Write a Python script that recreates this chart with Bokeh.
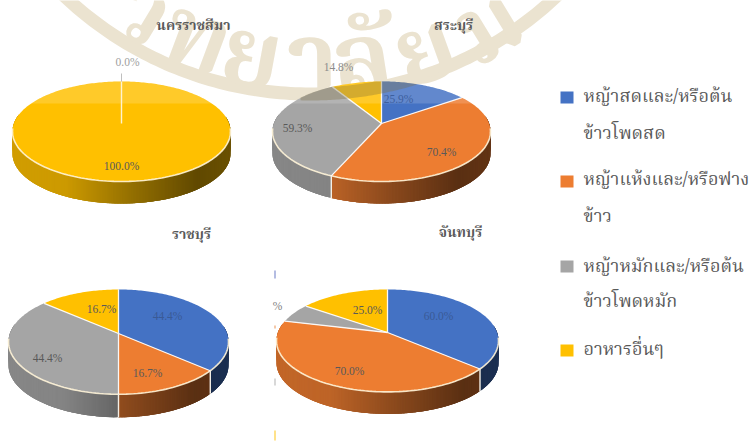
import math

from bokeh.core.properties import value
from bokeh.embed import file_html
from bokeh.models import Range1d
from bokeh.plotting import figure
from bokeh.resources import INLINE

# Feed categories and their colours
categories = [
    ["หญ้าสดและ/หรือต้น", "ข้าวโพดสด"],
    ["หญ้าแห้งและ/หรือฟาง", "ข้าว"],
    ["หญ้าหมักและ/หรือต้น", "ข้าวโพดหมัก"],
    ["อาหารอื่นๆ"],
]
colors = ["#4472C4", "#ED7D31", "#A5A5A5", "#FFC000"]

# Percent of farms per province (multiple answers, so totals pass 100)
nakhon_ratchasima = [0.0, 0.0, 0.0, 100.0]
saraburi = [25.9, 70.4, 59.3, 14.8]
ratchaburi = [44.4, 16.7, 44.4, 16.7]
chanthaburi = [60.0, 70.0, 10.0, 25.0]

FONT = "Liberation Serif"
THAI_FONT = "Noto Serif Thai"
INK = "#595959"

p = figure(width=752, height=441, output_backend="svg", toolbar_location=None,
           x_range=Range1d(0, 752), y_range=Range1d(441, 0), min_border=0,
           outline_line_color=None, background_fill_color="white")
p.axis.visible = False
p.grid.visible = False

# University seal behind the charts: a wide ring with letters following it
SEAL_X, SEAL_Y, SEAL_OUT, SEAL_IN = 310, -265, 365, 352
SEAL = "#ebe3d0"


def ring_point(radius, t):
    return SEAL_X + radius * math.sin(t), SEAL_Y + radius * math.cos(t)


steps = [-0.85 + i * 1.7 / 120 for i in range(121)]
outer = [ring_point(SEAL_OUT, t) for t in steps]
inner = [ring_point(SEAL_IN, t) for t in reversed(steps)]
p.patch([q[0] for q in outer + inner], [q[1] for q in outer + inner],
        fill_color=SEAL, line_color=None)

seal_letters = ["ว", "ท", "ย", "า", "ลั", "ย", "ม"]
seal_x = [140, 195, 250, 312, 362, 426, 490]
seal_y = [15, 43, 60, 65, 65, 55, 30]
for letter, lx, ly in zip(seal_letters, seal_x, seal_y):
    p.text([lx], [ly], text=[letter], angle=[-math.atan((SEAL_X - lx) / (ly - SEAL_Y))],
           text_font=value(THAI_FONT), text_font_size="96px", text_font_style="bold",
           text_color=SEAL, text_align="center", text_baseline="alphabetic")

WALL_PROFILE = [(0, .82), (.25, .80), (.55, .58), (.85, .38), (1, .42)]


def wall_shade(frac):
    for (a, sa), (b, sb) in zip(WALL_PROFILE, WALL_PROFILE[1:]):
        if frac <= b:
            return sa + (sb - sa) * (frac - a) / (b - a)
    return WALL_PROFILE[-1][1]


def tint(color, k):
    rgb = [int(color[i:i + 2], 16) for i in (1, 3, 5)]
    return "#" + "".join(f"{round(c * k):02x}" for c in rgb)


def draw_pie(values, ax, ay, left, right, top, bottom, depth):
    """Tilted 3D pie; slice shares are each value over the row total."""
    c = -0.16
    half = (right - left) / 2
    k = half * math.sqrt(1 - c * c)
    dy = (ay - top) * (1 - c)

    def rim(a):
        u, v = math.sin(a), -math.cos(a)
        w = 1 + c * v
        return ax + k * u / w, ay + dy * v / w

    total = sum(values)
    start = 0.0
    spans = []
    for val, col in zip(values, colors):
        end = start + val / total * 2 * math.pi
        if val > 0:
            spans.append((start, end, col))
        start = end

    # Outer wall, cut into short overlapping pieces to carry the horizontal shading
    xs, ys, fills = [], [], []
    for s, e, col in spans:
        n = max(2, int((e - s) / 0.012))
        for i in range(n):
            a0 = s + (e - s) * i / n
            a1 = min(e, a0 + 3.5 * (e - s) / n)
            p0, p1 = rim(a0), rim(a1)
            if math.cos(a0) > 0.16:
                continue
            xs.append([p0[0], p1[0], p1[0], p0[0]])
            ys.append([p0[1], p1[1], p1[1] + depth, p0[1] + depth])
            frac = (p0[0] - left) / (right - left)
            fills.append(tint(col, wall_shade(min(1, max(0, frac)))))
    p.patches(xs, ys, fill_color=fills, line_color=None)

    # Top face
    for s, e, col in spans:
        n = max(4, int((e - s) / 0.02))
        pts = [rim(s + (e - s) * i / n) for i in range(n + 1)]
        if e - s < 2 * math.pi - 1e-6:
            pts = [(ax, ay)] + pts
        p.patch([q[0] for q in pts], [q[1] for q in pts], fill_color=col, line_color=None)

    # Pale highlight along the near rim
    near = [rim(math.pi / 2 + 0.1 + i * (math.pi - 0.2) / 100) for i in range(101)]
    p.line([q[0] for q in near], [q[1] for q in near], line_color="#fff4d8",
           line_width=1.6, line_alpha=0.9)

    # Separators between slices, running on down the wall where it is visible
    if len(spans) > 1:
        for s, e, col in spans:
            q = rim(s)
            p.line([ax, q[0]], [ay, q[1]], line_color="white", line_width=1.3, line_alpha=0.9)
            if math.cos(s) < 0.16:
                p.line([q[0], q[0]], [q[1], q[1] + depth], line_color="#f4efe6", line_width=1.4)

    return rim


def draw_seal_over(rim, cut):
    """The seal prints over the upper edge of a pie: a lighter cap above the cut."""
    outline = [rim(i * 2 * math.pi / 360) for i in range(361)]
    cap = [(q[0], min(q[1], cut)) for q in outline]
    p.patch([q[0] for q in cap], [q[1] for q in cap], fill_color="white",
            fill_alpha=0.16, line_color=None)


def draw_ring_over(rim, cut, x0, x1):
    """Darker trace of the seal's ring where it crosses a pie."""
    outline = [rim(i * 2 * math.pi / 720) for i in range(721)]
    upper, lower = [], []
    x = x0
    while x <= x1:
        tops = [q[1] for q in outline if abs(q[0] - x) < 1.0]
        if tops:
            t = min(tops)
            a = SEAL_Y + math.sqrt(SEAL_IN ** 2 - (x - SEAL_X) ** 2)
            b = SEAL_Y + math.sqrt(SEAL_OUT ** 2 - (x - SEAL_X) ** 2)
            a, b = max(a, t), min(b, cut)
            if b > a:
                upper.append((x, a))
                lower.append((x, b))
        x += 2
    shape = upper + lower[::-1]
    p.patch([q[0] for q in shape], [q[1] for q in shape], fill_color="#7a6a3a",
            fill_alpha=0.32, line_color=None)


rim_a = draw_pie(nakhon_ratchasima, 121, 123, 12, 230, 81, 181, 22)
rim_b = draw_pie(saraburi, 381, 123, 273, 491, 81, 181, 22)
draw_pie(ratchaburi, 118, 333, 8, 228, 289, 391, 23)
draw_pie(chanthaburi, 387, 332, 275, 497, 289, 392, 22)

draw_seal_over(rim_a, 103)
draw_seal_over(rim_b, 103)
draw_ring_over(rim_b, 103, 300, 470)

# Leader of the empty slice in the first pie
p.line([121, 121], [123, 81], line_color="#fff3d0", line_width=1.4)
p.line([121, 121], [73, 81], line_color="#bfbfbf", line_width=1)


def pct(v):
    return f"{v:.1f}%"


def label(x, y, text, color=INK, size="11.5px"):
    p.text([x], [y], text=[text], text_font=value(FONT), text_font_size=size, text_color=color,
           text_align="center", text_baseline="middle")


label(127, 61, pct(nakhon_ratchasima[0]), "#a0a0a0")
label(121, 165, pct(nakhon_ratchasima[3]))
label(338, 66, pct(saraburi[3]), "#8c8c8c")
label(398, 98, pct(saraburi[0]), "#3d5f9e")
label(297, 127, pct(saraburi[2]))
label(441, 151, pct(saraburi[1]))
label(101, 308, pct(ratchaburi[3]))
label(167, 315, pct(ratchaburi[0]), "#3a5a96")
label(147, 372, pct(ratchaburi[1]))
label(47, 357, pct(ratchaburi[2]))
label(367, 309, pct(chanthaburi[3]))
label(438, 315, pct(chanthaburi[0]), "#3a5a96")
label(349, 370, pct(chanthaburi[1]))
label(277, 305, "%", "#7f7f7f")

# Province titles
titles = ["นครราชสีมา", "สระบุรี", "ราชบุรี", "จันทบุรี"]
title_x = [193, 453, 191, 460]
title_y = [25, 25, 234, 232]
for name, tx, ty in zip(titles, title_x, title_y):
    p.text([tx], [ty], text=[name], text_font=value(THAI_FONT), text_font_size="14px",
           text_font_style="bold", text_color=INK, text_align="center", text_baseline="middle")

# Cut-off remains of a neighbouring legend along the left of the last pie
stub_top = [270, 325, 378, 430]
stub_bottom = [278, 328, 385, 440]
stub_col = ["#b4bce2", "#f4c8a8", "#d8d8d8", "#ffe28a"]
p.quad(left=[273.5] * 4, right=[275.5] * 4, top=stub_top, bottom=stub_bottom,
       fill_color=stub_col, line_color=None)

# Legend
swatch_top = [91, 175, 260, 344]
line_y = [[97, 134], [180, 217], [267, 302], [350]]
p.quad(left=[560] * 4, right=[573] * 4, top=swatch_top, bottom=[t + 12 for t in swatch_top],
       fill_color=colors, line_color=None)
for lines, ys_ in zip(categories, line_y):
    for text, ly in zip(lines, ys_):
        p.text([583], [ly], text=[text], text_font=value(THAI_FONT), text_font_size="18px",
               text_color=INK, text_align="left", text_baseline="middle")

open("out.html", "w").write(file_html(p, INLINE))
